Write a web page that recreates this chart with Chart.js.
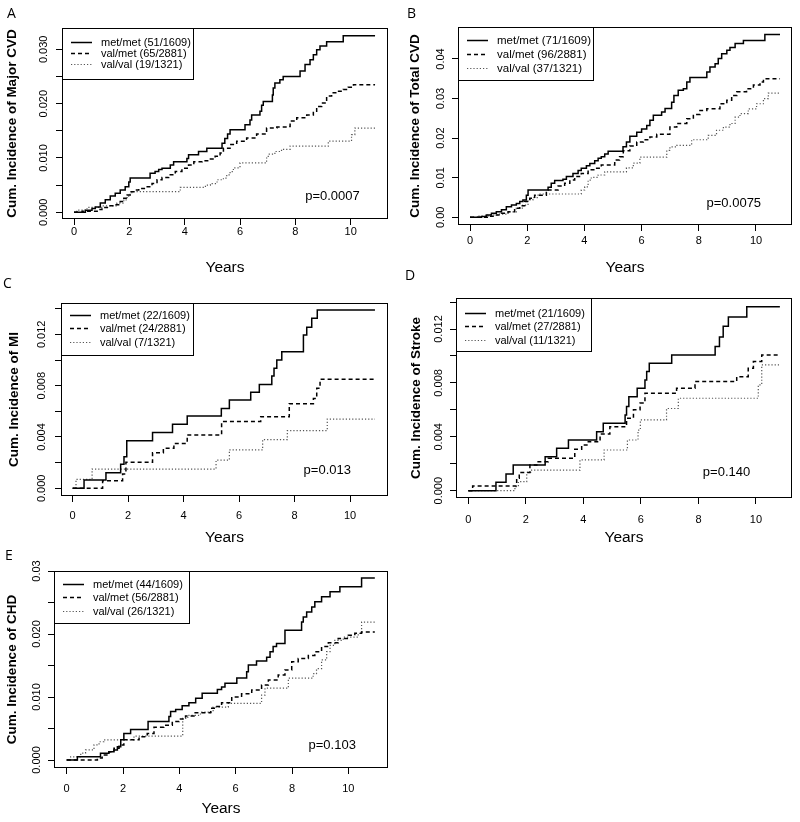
<!DOCTYPE html>
<html><head><meta charset="utf-8">
<script src="https://cdn.jsdelivr.net/npm/chart.js@4.4.1/dist/chart.umd.min.js"></script>
<style>
html,body{margin:0;padding:0;background:#fff;}
#wrap{position:relative;width:800px;height:822px;background:#fff;overflow:hidden;}
#wrap canvas{position:absolute;left:0;top:0;}
</style></head><body><div id="wrap"></div>
<script>
// ================= DATA =================
const xTickValues = [0, 2, 4, 6, 8, 10];
const genotypes = ['met/met', 'val/met', 'val/val'];

// ---- Panel A: Major CVD ----
const legendA = ['met/met (51/1609)', 'val/met (65/2881)', 'val/val (19/1321)'];
const aMetMetT = [0,0.41,0.65,0.77,0.95,1.13,1.31,1.49,1.67,1.85,1.98,2.03,2.75,2.93,3.06,3.18,3.48,3.60,4.08,4.14,4.50,4.80,5.35,5.45,5.55,5.64,6.18,6.36,6.42,6.72,6.78,6.84,7.17,7.20,7.26,7.44,7.56,8.17,8.35,8.53,8.65,8.77,8.89,9.13,9.73,10.88];
const aMetMetV = [0,0.0004,0.0007,0.0010,0.0017,0.0023,0.0030,0.0035,0.0041,0.0047,0.0056,0.0063,0.0072,0.0075,0.0079,0.0081,0.0087,0.0093,0.0099,0.0106,0.0112,0.0118,0.0127,0.0136,0.0144,0.0152,0.0161,0.0170,0.0179,0.0186,0.0197,0.0204,0.0216,0.0229,0.0238,0.0244,0.0250,0.0260,0.0272,0.0281,0.0290,0.0299,0.0306,0.0314,0.0325,0.0325];
const aValMetT = [0,0.30,0.90,1.01,1.25,1.49,1.67,1.80,1.92,2.03,2.16,2.34,2.58,2.82,3.00,3.18,3.42,3.66,3.90,4.14,4.33,4.63,4.93,5.10,5.28,5.40,5.64,5.88,6.24,6.60,6.96,7.33,7.69,7.81,8.05,8.41,8.65,8.77,8.95,9.13,9.31,9.49,9.73,9.91,10.10,10.88];
const aValMetV = [0,0.0002,0.0005,0.0009,0.0012,0.0014,0.0020,0.0026,0.0032,0.0038,0.0041,0.0044,0.0047,0.0053,0.0060,0.0064,0.0069,0.0075,0.0081,0.0087,0.0093,0.0095,0.0098,0.0103,0.0109,0.0118,0.0125,0.0131,0.0137,0.0144,0.0155,0.0157,0.0158,0.0168,0.0174,0.0179,0.0186,0.0195,0.0201,0.0214,0.0220,0.0223,0.0226,0.0230,0.0235,0.0235];
const aValValT = [0,0.10,0.47,1.00,1.55,1.80,1.92,2.03,2.16,3.84,4.75,4.93,5.17,5.40,5.52,5.64,5.76,6.00,6.96,7.02,7.26,7.50,7.81,9.19,10.03,10.15,10.88];
const aValValV = [0,0.0004,0.0009,0.0012,0.0017,0.0023,0.0030,0.0036,0.0038,0.0046,0.0050,0.0053,0.0060,0.0063,0.0069,0.0075,0.0082,0.0091,0.0100,0.0107,0.0112,0.0116,0.0122,0.0131,0.0143,0.0155,0.0155];
const aYTicks = [0,0.005,0.010,0.015,0.020,0.025,0.030];
const aYLabelVals = [0,0.010,0.020,0.030];
const aYLabelText = ['0.000','0.010','0.020','0.030'];

// ---- Panel B: Total CVD ----
const legendB = ['met/met (71/1609)', 'val/met (96/2881)', 'val/val (37/1321)'];
const bMetMetT = [0,0.40,0.57,0.75,0.92,1.10,1.27,1.45,1.62,1.74,1.85,1.97,2.03,2.73,2.84,2.96,3.25,3.37,3.60,3.78,3.89,4.07,4.19,4.36,4.48,4.59,4.71,4.83,5.35,5.47,5.59,5.83,6.00,6.18,6.29,6.41,6.70,6.82,7.05,7.13,7.28,7.46,7.58,7.69,8.28,8.39,8.57,8.68,8.80,8.98,9.09,9.27,9.56,10.31,10.84];
const bMetMetV = [0,0.0002,0.0006,0.0010,0.0014,0.0019,0.0027,0.0031,0.0035,0.0040,0.0044,0.0056,0.0069,0.0076,0.0086,0.0093,0.0096,0.0103,0.0111,0.0118,0.0124,0.0130,0.0136,0.0143,0.0149,0.0153,0.0160,0.0167,0.0178,0.0190,0.0205,0.0215,0.0223,0.0232,0.0245,0.0258,0.0266,0.0275,0.0291,0.0308,0.0321,0.0325,0.0342,0.0353,0.0367,0.0380,0.0388,0.0401,0.0413,0.0422,0.0429,0.0439,0.0447,0.0462,0.0462];
const bValMetT = [0,0.63,0.86,1.10,1.33,1.56,1.74,1.91,2.09,2.26,2.67,3.08,3.31,3.49,3.66,3.89,4.13,4.36,4.59,5.06,5.23,5.36,5.59,5.83,6.06,6.29,6.53,6.99,7.23,7.58,7.81,8.04,8.28,8.74,8.98,9.15,9.33,9.67,9.91,10.14,10.26,10.84];
const bValMetV = [0,0.0003,0.0006,0.0010,0.0014,0.0023,0.0029,0.0040,0.0048,0.0056,0.0069,0.0079,0.0086,0.0094,0.0103,0.0111,0.0120,0.0124,0.0132,0.0145,0.0153,0.0168,0.0180,0.0190,0.0196,0.0203,0.0210,0.0228,0.0237,0.0249,0.0260,0.0270,0.0274,0.0287,0.0296,0.0308,0.0317,0.0325,0.0334,0.0342,0.0350,0.0350];
const bValValT = [0,0.28,0.63,0.98,1.33,1.62,1.85,2.03,2.20,2.38,3.89,4.01,4.13,4.24,4.48,4.71,5.47,5.71,5.94,6.88,6.99,7.23,7.75,8.33,8.62,8.86,9.09,9.27,9.44,9.73,10.02,10.26,10.43,10.84];
const bValValV = [0,0.0003,0.0006,0.0008,0.0014,0.0023,0.0031,0.0044,0.0050,0.0059,0.0069,0.0077,0.0094,0.0101,0.0107,0.0115,0.0125,0.0137,0.0152,0.0169,0.0178,0.0182,0.0196,0.0207,0.0220,0.0228,0.0237,0.0253,0.0262,0.0274,0.0287,0.0300,0.0314,0.0314];
const bYTicks = [0,0.01,0.02,0.03,0.04];
const bYLabelVals = [0,0.01,0.02,0.03,0.04];
const bYLabelText = ['0.00','0.01','0.02','0.03','0.04'];

// ---- Panel C: MI ----
const legendC = ['met/met (22/1609)', 'val/met (24/2881)', 'val/val (7/1321)'];
const cMetMetT = [0,0.41,1.20,1.73,1.85,1.95,2.88,3.60,4.13,5.36,5.65,6.42,6.73,7.18,7.26,7.36,7.54,8.32,8.44,8.62,8.82,10.90];
const cMetMetV = [0,0.00065,0.00122,0.00187,0.00247,0.00371,0.00436,0.00500,0.00564,0.00623,0.00688,0.00748,0.00810,0.00875,0.00935,0.01000,0.01065,0.01195,0.01255,0.01325,0.01390,0.01390];
const cValMetT = [0,1.08,1.80,1.92,2.88,3.27,3.65,4.13,5.37,6.78,7.81,8.68,8.80,8.92,10.90];
const cValMetV = [0,0.00060,0.00112,0.00203,0.00278,0.00312,0.00350,0.00416,0.00520,0.00558,0.00660,0.00700,0.00780,0.00850,0.00850];
const cValValT = [0,0.12,0.70,5.17,5.65,6.85,7.74,9.18,10.90];
const cValValV = [0,0.00070,0.00150,0.00220,0.00300,0.00380,0.00450,0.00540,0.00540];
const cYTicks = [0,0.002,0.004,0.006,0.008,0.010,0.012,0.014];
const cYLabelVals = [0,0.004,0.008,0.012];
const cYLabelText = ['0.000','0.004','0.008','0.012'];

// ---- Panel D: Stroke ----
const legendD = ['met/met (21/1609)', 'val/met (27/2881)', 'val/val (11/1321)'];
const dMetMetT = [0,0.96,1.31,1.56,2.67,3.07,3.48,4.46,4.69,5.45,5.50,5.58,5.87,6.14,6.20,6.29,7.07,8.58,8.73,8.86,9.04,9.68,10.83];
const dMetMetV = [0,0.00062,0.00124,0.00190,0.00252,0.00314,0.00376,0.00438,0.00500,0.00562,0.00624,0.00698,0.00760,0.00822,0.00884,0.00946,0.01007,0.01070,0.01140,0.01220,0.01290,0.01366,0.01366];
const dValMetT = [0,0.15,1.68,1.77,2.14,2.38,2.78,3.70,3.94,4.17,4.58,4.92,5.50,5.74,5.97,6.14,7.24,7.88,9.33,9.73,9.91,10.20,10.83];
const dValMetV = [0,0.00035,0.00092,0.00134,0.00190,0.00215,0.00240,0.00307,0.00339,0.00364,0.00420,0.00475,0.00537,0.00600,0.00650,0.00723,0.00760,0.00810,0.00846,0.00908,0.00958,0.01007,0.01007];
const dValValT = [0,1.62,1.74,2.03,2.20,3.88,4.72,5.53,5.90,5.98,6.89,7.30,10.08,10.20,10.83];
const dValValV = [0,0.00030,0.00067,0.00136,0.00153,0.00228,0.00302,0.00376,0.00450,0.00525,0.00610,0.00686,0.00785,0.00933,0.00933];
const dYTicks = [0,0.002,0.004,0.006,0.008,0.010,0.012,0.014];
const dYLabelVals = [0,0.004,0.008,0.012];
const dYLabelText = ['0.000','0.004','0.008','0.012'];

// ---- Panel E: CHD ----
const legendE = ['met/met (44/1609)', 'val/met (56/2881)', 'val/val (26/1321)'];
const eMetMetT = [0,0.38,1.20,1.50,1.68,1.80,1.92,2.03,2.27,2.89,3.63,3.69,3.87,4.10,4.34,4.58,4.81,5.35,5.50,5.62,6.04,6.39,6.45,6.74,7.10,7.22,7.33,7.45,7.75,8.34,8.40,8.52,8.70,8.81,9.05,9.35,9.70,10.47,10.94];
const eMetMetV = [0,0.00053,0.00106,0.00130,0.00158,0.00210,0.00320,0.00420,0.00485,0.00610,0.00690,0.00770,0.00800,0.00860,0.00910,0.00980,0.01060,0.01120,0.01160,0.01220,0.01300,0.01400,0.01510,0.01570,0.01630,0.01720,0.01800,0.01850,0.02060,0.02190,0.02270,0.02350,0.02430,0.02510,0.02590,0.02670,0.02750,0.02890,0.02890];
const eValMetT = [0,1.09,1.26,1.50,1.68,1.86,2.03,2.57,2.86,3.10,3.45,3.75,3.99,4.22,4.52,5.11,5.30,5.50,5.86,6.21,6.57,6.92,7.16,7.51,7.75,7.99,8.22,8.58,8.81,9.05,9.29,9.64,10.00,10.23,10.47,10.94];
const eValMetV = [0,0.0003,0.0008,0.0013,0.00185,0.0024,0.0032,0.0037,0.0042,0.0052,0.0055,0.0061,0.0065,0.0070,0.0075,0.0082,0.0085,0.0091,0.0100,0.0105,0.0111,0.0119,0.0127,0.0135,0.0143,0.0156,0.0161,0.0166,0.0172,0.0180,0.0186,0.0193,0.0198,0.0201,0.0203,0.0203];
const eValValT = [0,0.14,0.50,0.67,0.97,1.15,1.32,2.39,4.12,4.30,4.75,5.20,5.74,6.92,7.04,7.87,8.75,8.87,9.05,9.23,9.35,9.52,9.82,10.35,10.47,10.94];
const eValValV = [0,0.0005,0.0011,0.0016,0.0024,0.0029,0.0032,0.0038,0.0066,0.0071,0.0076,0.0084,0.0090,0.0103,0.0114,0.0130,0.0137,0.0145,0.0159,0.0172,0.0182,0.0190,0.0195,0.0201,0.0219,0.0219];
const eYTicks = [0,0.005,0.010,0.015,0.020,0.025,0.030];
const eYLabelVals = [0,0.010,0.020,0.030];
const eYLabelText = ['0.000','0.010','0.020','0.03'];

const letters = ['A','B','C','D','E'];
const yTitles = ['Cum. Incidence of Major CVD','Cum. Incidence of Total CVD','Cum. Incidence of MI','Cum. Incidence of Stroke','Cum. Incidence of CHD'];
const pValues = ['p=0.0007','p=0.0075','p=0.013','p=0.140','p=0.103'];

// ================= LAYOUT / STYLE =================
const FONT = '"Liberation Sans", Arial, Helvetica, sans-serif';
const lineStyles = [
  {color:'#000', width:1.5, dash:[]},
  {color:'#000', width:1.5, dash:[4,3]},
  {color:'#555', width:1.2, dash:[1.2,2]}
];
// plot boxes (page px) and axis windows
const geo = [
  {ox:0,   L:62,  T:28,  R:388, B:219, xr:[-0.434,11.348], yr:[-0.001228,0.033926], yearsY:267.5, yTitleX:12.5, xLabOff:12, yLabOff:18,
   legW:131, legH:51, row0:13.7, rowSp:11.3, legFont:11, pdx:270.5, pdy:22.3, lx:7, ly:18},
  {ox:400, L:458, T:27,  R:792, B:225, xr:[-0.420,11.259], yr:[-0.001938,0.048084], yearsY:267.5, yTitleX:415, xLabOff:15, yLabOff:17,
   legW:135, legH:53, row0:12.6, rowSp:14.2, legFont:11.5, pdx:275.8, pdy:21.7, lx:407, ly:18},
  {ox:0,   L:61,  T:303, R:388, B:496, xr:[-0.421,11.370], yr:[-0.000598,0.014442], yearsY:538, yTitleX:14, xLabOff:19.3, yLabOff:19,
   legW:131.6, legH:52.3, row0:11.6, rowSp:13.7, legFont:11, pdx:266.3, pdy:25.7, lx:3, ly:288},
  {ox:400, L:456, T:298, R:792, B:498, xr:[-0.429,11.252], yr:[-0.000544,0.014301], yearsY:538, yTitleX:416, xLabOff:21, yLabOff:17,
   legW:135, legH:53.4, row0:15, rowSp:13.3, legFont:11, pdx:270.5, pdy:26, lx:405, ly:280},
  {ox:0,   L:54,  T:571, R:388, B:768, xr:[-0.450,11.408], yr:[-0.001268,0.030000], yearsY:809, yTitleX:12.5, xLabOff:20.7, yLabOff:17,
   legW:135, legH:52, row0:12.6, rowSp:13.7, legFont:11, pdx:278.2, pdy:22.7, lx:5, ly:560}
];

const panels = [
  {legend:legendA, series:[[aMetMetT,aMetMetV],[aValMetT,aValMetV],[aValValT,aValValV]], yTicks:aYTicks, yLabVals:aYLabelVals, yLabText:aYLabelText},
  {legend:legendB, series:[[bMetMetT,bMetMetV],[bValMetT,bValMetV],[bValValT,bValValV]], yTicks:bYTicks, yLabVals:bYLabelVals, yLabText:bYLabelText},
  {legend:legendC, series:[[cMetMetT,cMetMetV],[cValMetT,cValMetV],[cValValT,cValValV]], yTicks:cYTicks, yLabVals:cYLabelVals, yLabText:cYLabelText},
  {legend:legendD, series:[[dMetMetT,dMetMetV],[dValMetT,dValMetV],[dValValT,dValValV]], yTicks:dYTicks, yLabVals:dYLabelVals, yLabText:dYLabelText},
  {legend:legendE, series:[[eMetMetT,eMetMetV],[eValMetT,eValMetV],[eValValT,eValValV]], yTicks:eYTicks, yLabVals:eYLabelVals, yLabText:eYLabelText}
];

function steps(t, v) { return t.map((x, i) => ({x: x, y: v[i]})); }

const rPanel = {
  id: 'rPanel',
  afterDraw(chart, args, o) {
    const ctx = chart.ctx, ca = chart.chartArea, ys = chart.scales.y;
    ctx.save();
    // plot box
    ctx.setLineDash([]); ctx.lineWidth = 1; ctx.strokeStyle = '#000';
    ctx.strokeRect(ca.left + 0.5, ca.top + 0.5, ca.right - ca.left - 1, ca.bottom - ca.top - 1);
    // rotated y tick labels
    ctx.fillStyle = '#000'; ctx.font = '11px ' + FONT; ctx.textAlign = 'center'; ctx.textBaseline = 'middle';
    o.yLabVals.forEach((v, i) => {
      const py = ys.getPixelForValue(v);
      ctx.save(); ctx.translate(ca.left - o.yLabOff, py); ctx.rotate(-Math.PI / 2);
      ctx.fillText(o.yLabText[i], 0, 0); ctx.restore();
    });
    // legend
    const lx = ca.left, ly = ca.top;
    ctx.fillStyle = '#fff'; ctx.fillRect(lx + 1, ly + 1, o.legW - 1, o.legH - 1);
    ctx.strokeStyle = '#000'; ctx.lineWidth = 1;
    ctx.strokeRect(lx + 0.5, ly + 0.5, Math.round(o.legW), Math.round(o.legH));
    chart.data.datasets.forEach((ds, k) => {
      const ry = Math.round(ly + o.row0 + k * o.rowSp) + 0.5;
      ctx.beginPath(); ctx.setLineDash(ds.borderDash || []);
      ctx.strokeStyle = ds.borderColor; ctx.lineWidth = ds.borderWidth;
      ctx.moveTo(lx + 9, ry); ctx.lineTo(lx + 30, ry); ctx.stroke();
      ctx.setLineDash([]);
      ctx.fillStyle = '#000'; ctx.font = o.legFont + 'px ' + FONT; ctx.textAlign = 'left'; ctx.textBaseline = 'middle';
      ctx.fillText(ds.label, lx + 39, ry);
    });
    // p value
    ctx.fillStyle = '#000'; ctx.font = '13px ' + FONT; ctx.textAlign = 'center'; ctx.textBaseline = 'middle';
    ctx.fillText(o.p, ca.left + o.pdx, ca.bottom - o.pdy);
    // panel letter
    ctx.font = '14px "Open Sans", "Noto Sans", sans-serif'; ctx.textAlign = 'left'; ctx.textBaseline = 'alphabetic';
    ctx.fillText(o.letter, o.lx, o.ly);
    ctx.restore();
  }
};

const wrap = document.getElementById('wrap');
panels.forEach((p, i) => {
  const g = geo[i];
  const cv = document.createElement('canvas');
  cv.width = 800; cv.height = 822;
  wrap.appendChild(cv);
  const xLH = 18, yLH = 13.5 * 1.2;
  const xAxisH = g.yearsY + xLH / 2 - g.B;
  const yAxisW = g.L - g.ox;
  new Chart(cv, {
    type: 'line',
    data: {
      datasets: p.series.map((s, k) => ({
        label: p.legend[k],
        data: steps(s[0], s[1]),
        stepped: true,
        borderColor: lineStyles[k].color,
        borderWidth: lineStyles[k].width,
        borderDash: lineStyles[k].dash,
        pointRadius: 0, pointHoverRadius: 0, fill: false, tension: 0
      }))
    },
    options: {
      responsive: false, animation: false, devicePixelRatio: 1,
      events: [],
      layout: {padding: {left: g.ox, top: g.T, right: 800 - g.R, bottom: 822 - (g.B + xAxisH)}},
      plugins: {
        legend: {display: false}, tooltip: {enabled: false},
        rPanel: {yLabVals: p.yLabVals, yLabText: p.yLabText, yLabOff: g.yLabOff, legW: g.legW, legH: g.legH,
                 row0: g.row0, rowSp: g.rowSp, legFont: g.legFont, p: pValues[i], pdx: g.pdx, pdy: g.pdy,
                 letter: letters[i], lx: g.lx, ly: g.ly}
      },
      scales: {
        x: {
          type: 'linear', min: g.xr[0], max: g.xr[1],
          afterBuildTicks: s => { s.ticks = xTickValues.map(v => ({value: v})); },
          afterFit: s => { s.height = xAxisH; },
          grid: {display: true, drawOnChartArea: false, drawTicks: true, tickLength: 6, color: '#000', lineWidth: 1},
          border: {display: false},
          ticks: {font: {family: FONT, size: 11}, color: '#000', padding: g.xLabOff - 12, maxRotation: 0, autoSkip: false,
                  callback: v => String(v)},
          title: {display: true, text: 'Years', color: '#000', font: {family: FONT, size: 15.5, lineHeight: 1.2}, padding: {top: 0, bottom: (xLH - 15.5*1.2)/2}}
        },
        y: {
          type: 'linear', min: g.yr[0], max: g.yr[1],
          afterBuildTicks: s => { s.ticks = p.yTicks.map(v => ({value: v})); },
          afterFit: s => { s.width = yAxisW; },
          grid: {display: true, drawOnChartArea: false, drawTicks: true, tickLength: 6, color: '#000', lineWidth: 1},
          border: {display: false},
          ticks: {display: false},
          title: {display: true, text: yTitles[i], color: '#000', font: {family: FONT, size: 13.5, weight: 'bold', lineHeight: 1.2},
                  padding: {top: g.yTitleX - g.ox - yLH / 2, bottom: 0}}
        }
      }
    },
    plugins: [rPanel]
  });
});
</script></body></html>
